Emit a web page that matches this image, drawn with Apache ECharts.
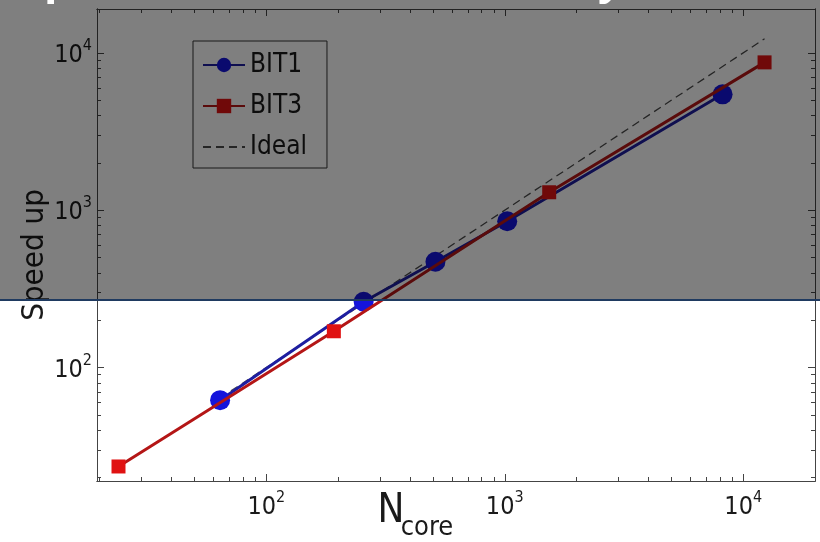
<!DOCTYPE html>
<html><head><meta charset="utf-8">
<script src="https://cdn.jsdelivr.net/npm/echarts@6/dist/echarts.min.js"></script>
<style>html,body{margin:0;padding:0;background:#fff}#c{width:820px;height:542px}</style>
</head><body><div id="c"></div>
<script>
// ---- data ----
const bit1N = [64, 256, 512, 1024, 8192];
const bit1S = [62, 262, 470, 850, 5450];
const bit3N = [24, 192, 1536, 12288];
const bit3S = [23.5, 170, 1300, 8700];
const idealN = [64, 12288];
const idealS = [64, 12288];
const majorTicks = [100, 1000, 10000];
const xMinorTicks = [20,30,40,50,60,70,80,90,200,300,400,500,600,700,800,900,2000,3000,4000,5000,6000,7000,8000,9000,20000];
const yMinorTicks = [20,30,40,50,60,70,80,90,200,300,400,500,600,700,800,900,2000,3000,4000,5000,6000,7000,8000,9000];
const seriesNames = ['BIT1', 'BIT3', 'Ideal'];
const xName = 'N';
const xNameSub = 'core';
const yName = 'Speed up';

const FONT = '"Liberation Sans Narrow", "DejaVu Sans Condensed", "Liberation Sans", Arial, sans-serif';
const FW = 'condensed';
const X = [19.5, 20000], Y = [19, 19000];
const pairs = (a, b) => a.map((v, i) => [v, b[i]]);
const fmt = v => '{b|10}{s|' + Math.round(Math.log10(v)) + '}';
const rich = {
  b: {fontSize: 25, fontFamily: FONT, fontWeight: FW, color: '#1a1a1a', lineHeight: 30, verticalAlign: 'bottom'},
  s: {fontSize: 16, fontFamily: FONT, fontWeight: FW, color: '#1a1a1a', lineHeight: 16, verticalAlign: 'top'}
};
const lineC = {color: '#444', width: 1};

function xAx(pos, ticks, len, labels, extra) {
  return Object.assign({
    type: 'log', logBase: 10, min: X[0], max: X[1], position: pos,
    axisLine: {show: true, lineStyle: lineC},
    axisTick: {show: true, inside: true, length: len, customValues: ticks, lineStyle: lineC},
    axisLabel: labels ? {show: true, customValues: ticks, formatter: fmt, rich: rich, margin: 9} : {show: false},
    splitLine: {show: false}, minorTick: {show: false}
  }, extra || {});
}
function yAx(pos, ticks, len, labels, extra) {
  return Object.assign({
    type: 'log', logBase: 10, min: Y[0], max: Y[1], position: pos,
    axisLine: {show: true, lineStyle: lineC},
    axisTick: {show: true, inside: true, length: len, customValues: ticks, lineStyle: lineC},
    axisLabel: labels ? {show: true, customValues: ticks, formatter: fmt, rich: rich, margin: 5} : {show: false},
    splitLine: {show: false}, minorTick: {show: false}
  }, extra || {});
}

const chart = echarts.init(document.getElementById('c'), null, {renderer: 'canvas'});
chart.setOption({
  backgroundColor: '#ffffff',
  animation: false,
  grid: {left: 97, right: 5, top: 9, bottom: 61, containLabel: false, outerBoundsMode: 'none'},
  xAxis: [
    xAx('bottom', majorTicks, 7, true, {
      name: xName, nameLocation: 'middle', nameGap: 11, nameMoveOverlap: false,
      nameTextStyle: {fontSize: 40, fontFamily: FONT, fontWeight: FW, color: '#1a1a1a', padding: [0, 130, 0, 0]}
    }),
    xAx('bottom', xMinorTicks, 4, false, {
      name: xNameSub, nameLocation: 'middle', nameGap: 33, nameMoveOverlap: false,
      nameTextStyle: {fontSize: 27, fontFamily: FONT, fontWeight: FW, color: '#1a1a1a', padding: [0, 58, 0, 0]}
    }),
    xAx('top', majorTicks, 7, false),
    xAx('top', xMinorTicks, 4, false)
  ],
  yAxis: [
    yAx('left', majorTicks, 7, true, {
      name: yName, nameLocation: 'middle', nameGap: 47, nameRotate: 90, nameMoveOverlap: false,
      nameTextStyle: {fontSize: 31, fontFamily: FONT, fontWeight: FW, color: '#1a1a1a', padding: [0, 20, 0, 0]}
    }),
    yAx('left', yMinorTicks, 4, false),
    yAx('right', majorTicks, 7, false),
    yAx('right', yMinorTicks, 4, false)
  ],
  legend: {
    orient: 'vertical', left: 193, top: 41,
    data: [seriesNames[0], seriesNames[1], {name: seriesNames[2], itemStyle: {opacity: 0}}],
    backgroundColor: '#ffffff', borderColor: '#333', borderWidth: 1, borderRadius: 0,
    padding: [11, 20, 8, 9], itemWidth: 42, itemHeight: 18, itemGap: 15,
    textStyle: {fontSize: 26, fontFamily: FONT, fontWeight: FW, color: '#1a1a1a', padding: [0, 0, 0, 0]}
  },
  series: [
    {name: seriesNames[0], type: 'line', xAxisIndex: 0, yAxisIndex: 0, z: 3,
     data: pairs(bit1N, bit1S), symbol: 'circle', symbolSize: 20,
     lineStyle: {color: '#1e1ea0', width: 3}, itemStyle: {color: '#1414dc'}},
    {name: seriesNames[1], type: 'line', xAxisIndex: 0, yAxisIndex: 0, z: 4,
     data: pairs(bit3N, bit3S), symbol: 'rect', symbolSize: 14,
     lineStyle: {color: '#b41616', width: 3}, itemStyle: {color: '#e01212'}},
    {name: seriesNames[2], type: 'line', xAxisIndex: 0, yAxisIndex: 0, z: 1,
     data: pairs(idealN, idealS), symbol: 'none',
     lineStyle: {color: '#4a4a4a', width: 1.3, type: [8, 5]}, itemStyle: {color: '#4a4a4a'}}
  ],
  graphic: [
    {type: 'rect', z: 100, silent: true, shape: {x: 0, y: 0, width: 820, height: 300},
     style: {fill: 'rgba(0,0,0,0.5)'}},
    {type: 'line', z: 101, silent: true, shape: {x1: 0, y1: 300, x2: 820, y2: 300},
     style: {stroke: '#1f3a60', lineWidth: 2}},
    {type: 'text', z: 102, left: 44, top: -42, silent: true,
     style: {text: 'p', fill: '#ffffff', font: 'bold 44px "Open Sans", sans-serif'}},
    {type: 'text', z: 102, left: 598, top: -42, silent: true,
     style: {text: 'y', fill: '#ffffff', font: 'bold 44px "Open Sans", sans-serif'}}
  ]
});
</script></body></html>
